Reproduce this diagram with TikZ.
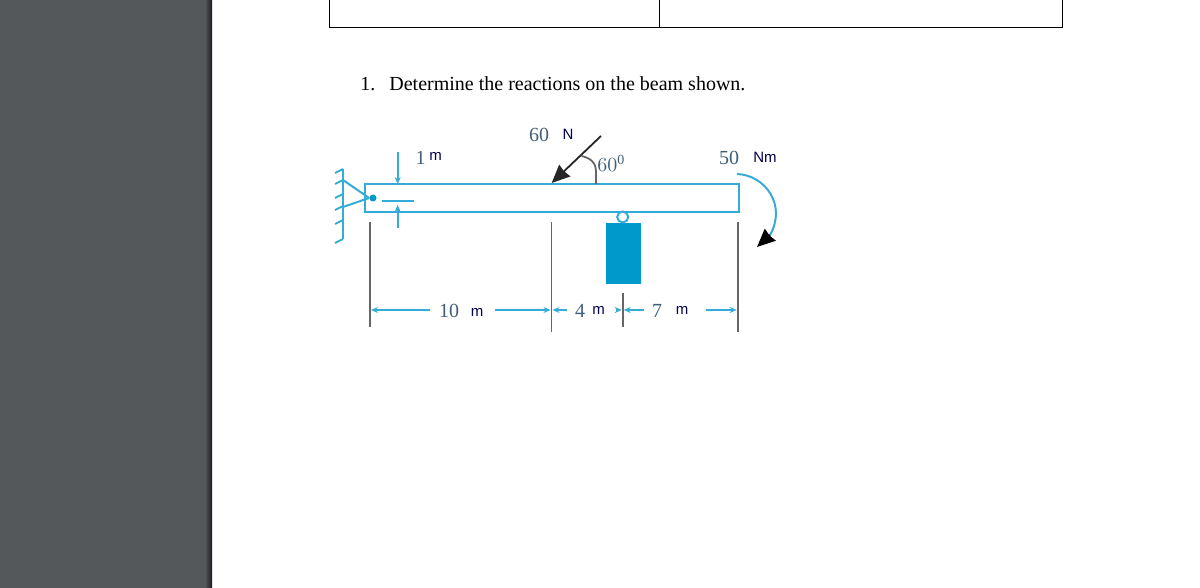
\documentclass[tikz,border=0pt]{standalone}
\usepackage{fontspec}
\setmainfont{Liberation Serif}
\setsansfont{Liberation Sans}
\usepackage{tikz}
\usetikzlibrary{positioning, arrows.meta, calc}
\definecolor{beamblue}{HTML}{35ACD8}
\definecolor{blockblue}{HTML}{0099CC}
\definecolor{digitgray}{HTML}{3F5F78}
\definecolor{panelgray}{HTML}{54585B}
\tikzset{
  beamline/.style={draw=beamblue, line width=1pt},
  extline/.style={draw=black!60, line width=0.9pt},
  dimline/.style={beamline, line width=0.9pt, -{Stealth[length=3.5pt,width=3pt]}},
  forcetip/.style={-{Stealth[length=9pt,width=8pt,inset=0.5pt]}},
  num/.style={font=\fontsize{10}{12}\selectfont, text=digitgray, inner sep=0pt},
  unitlabel/.style={font=\sffamily\fontsize{7.5}{9}\selectfont, text=black!70!blue, inner sep=0pt},
}
\begin{document}
\begin{tikzpicture}[x=0.5pt, y=-0.5pt]
\useasboundingbox (0,0) rectangle (1200,588);
\fill[panelgray] (0,0) rectangle (205,588);
\shade[left color=panelgray, right color=black!70!panelgray] (205,0) rectangle (212,588);

% table stub at the top
\coordinate (table a) at (329.5,0);
\coordinate (table b) at (329.5,28);
\coordinate (table c) at (1062.5,28);
\coordinate (table d) at (1062.5,0);
\coordinate (table e) at (659.5,0);
\coordinate (table f) at (659.5,28);
\draw[line width=0.5pt] (table a) -- (table b) -- (table c) -- (table d);
\draw[line width=0.5pt] (table e) -- (table f);

\node[anchor=west, inner sep=0pt, font=\fontsize{10}{12}\selectfont] (question num) at (360,84) {1.};
\node[anchor=west, inner sep=0pt, font=\fontsize{10}{12}\selectfont] (question) at (389,84) {Determine the reactions on the beam shown.};

% beam
\node[beamline, minimum width=187pt, minimum height=13.75pt, inner sep=0pt, anchor=north west] (beam) at (364,183.5) {};

% wall and support
\coordinate (wall top) at (343,169);
\coordinate (wall bot) at (343,239);
\draw[beamline] (wall top) -- (wall bot);
\foreach \y in {169,180,194,206,220,239} {
  \draw[beamline] (343,\y) -- ++(-8,4);
}
\node[circle, fill=blockblue, minimum size=3.5pt, inner sep=0pt] (pin) at (373,198) {};
\coordinate (wall up) at (343,180);
\coordinate (wall low) at (343,207);
\draw[beamline] (wall up) -- (pin.west);
\draw[beamline] (wall low) -- (pin.west);

% 1 m thickness
\coordinate (thick top) at (397.7,152);
\coordinate (thick top end) at (397.7,184);
\coordinate (thick low) at (397.7,228);
\coordinate (thick low end) at (397.7,205);
\coordinate (tick a) at (382,201);
\coordinate (tick b) at (414,201);
\draw[dimline] (thick top) -- (thick top end);
\draw[dimline] (thick low) -- (thick low end);
\draw[beamline] (tick a) -- (tick b);
\node[num] (thick num) at (420.5,158) {1};
\node[unitlabel] (thick unit) at (435.5,156) {m};

% block hanging under the beam
\node[circle, draw=beamblue, line width=1pt, fill=white, minimum size=5.5pt, inner sep=0pt] (hook) at (622.7,217) {};
\node[fill=blockblue, minimum width=17.2pt, minimum height=30.6pt, inner sep=0pt, anchor=north west] (block) at (605.7,222.2) {};

% extension lines
\coordinate (ext a top) at (370,222);
\coordinate (ext a bot) at (370,327);
\coordinate (ext b top) at (551.5,222);
\coordinate (ext b bot) at (551.5,332);
\coordinate (ext c top) at (622.7,293);
\coordinate (ext c bot) at (622.7,327);
\coordinate (ext d top) at (737.7,222);
\coordinate (ext d bot) at (737.7,332);
\draw[extline] (ext a top) -- (ext a bot);
\draw[extline] (ext b top) -- (ext b bot);
\draw[extline] (ext c top) -- (ext c bot);
\draw[extline] (ext d top) -- (ext d bot);

% dimension labels
\node[num] (dim ten) at (449,311) {10};
\node[unitlabel] (dim ten unit) at (477,312) {m};
\node[num] (dim four) at (580,311) {4};
\node[unitlabel] (dim four unit) at (598.5,310) {m};
\node[num] (dim seven) at (657,311) {7};
\node[unitlabel] (dim seven unit) at (682,310) {m};

% dimension arrows
\coordinate (d1) at (430,310);
\coordinate (d2) at (371,310);
\coordinate (d3) at (495,310);
\coordinate (d4) at (550.5,310);
\coordinate (d5) at (567,310);
\coordinate (d6) at (552.5,310);
\coordinate (d7) at (616,310);
\coordinate (d8) at (621.7,310);
\coordinate (d9) at (644,310);
\coordinate (d10) at (623.7,310);
\coordinate (d11) at (706,310);
\coordinate (d12) at (736.7,310);
\draw[dimline] (d1) -- (d2);
\draw[dimline] (d3) -- (d4);
\draw[dimline] (d5) -- (d6);
\draw[dimline] (d7) -- (d8);
\draw[dimline] (d9) -- (d10);
\draw[dimline] (d11) -- (d12);

% 60 N force
\coordinate (force start) at (601,136);
\coordinate (force tip) at (551.7,183);
\draw[forcetip, line width=0.9pt, black!85] (force start) -- (force tip);
\coordinate (angle foot) at (596,184);
\coordinate (angle end) at (581.5,156);
\draw[black!60, line width=0.9pt] (angle foot) -- ++(0,-12) .. controls (596,162) and (590,158) .. (angle end);
\node[num] (force num) at (539,135) {60};
\node[unitlabel] (force unit) at (568,134) {N};
\node[num, anchor=west] (angle label) at (597,163) {$60^{\mathrm{0}}$};

% 50 Nm moment
\coordinate (moment start) at (737,174);
\coordinate (moment tip) at (757,247);
\coordinate (moment mid) at (770,235);
\draw[beamline, line width=1pt] (moment start) .. controls (765,175) and (787,205) .. (moment mid);
\draw[forcetip, line width=0.9pt, black] (moment mid) -- (moment tip);
\node[num] (moment num) at (729,158) {50};
\node[unitlabel] (moment unit) at (765,157) {Nm};
\end{tikzpicture}
\end{document}
